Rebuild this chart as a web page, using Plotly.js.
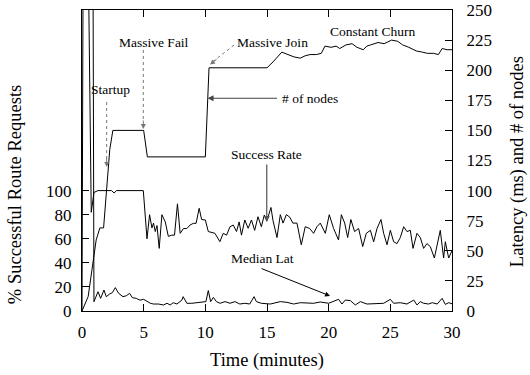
<!DOCTYPE html>
<html>
<head>
<meta charset="utf-8">
<script src="https://cdn.plot.ly/plotly-3.0.1.min.js"></script>
<style>html,body{margin:0;padding:0;background:#fff;}#chart{width:530px;height:375px;}</style>
</head>
<body>
<div id="chart"></div>
<script>
// ---- Data ----
// Number of nodes over time (minutes)
const nodesTime = [0, 0.5, 1.15, 1.45, 1.75, 2.25, 2.5, 5.0, 5.3, 10.0, 10.3, 15.0, 15.5, 16.2, 16.7, 17.2, 17.7, 18.1, 18.5, 19.0, 19.4, 19.7, 20.2, 20.6, 20.9, 21.4, 21.9, 22.3, 22.8, 23.1, 23.4, 24.0, 24.5, 25.1, 25.6, 26.0, 26.5, 27.1, 27.6, 28.0, 28.5, 28.9, 29.2, 29.6, 30.0];
const nodesCount = [0, 12, 59, 69, 69, 134, 150, 150, 128, 128, 202, 202, 207, 215, 213, 211, 210, 212, 213, 213, 214, 220, 219, 220, 218, 221, 222, 219, 217, 220, 221, 223, 222, 225, 224, 221, 219, 216, 215, 214, 214, 213, 218, 217, 217];

// Success rate (%) over time
const successTime = [0.5, 0.75, 0.97, 1.3, 2.4, 2.6, 2.8, 4.97, 5.27, 5.48, 5.67, 5.8, 5.94, 6.08, 6.26, 6.48, 6.75, 7.0, 7.28, 7.5, 7.74, 7.96, 8.23, 8.5, 8.76, 9.03, 9.25, 9.5, 9.7, 10.0, 10.24, 10.5, 10.78, 11.18, 11.45, 11.72, 12.0, 12.26, 12.53, 12.74, 12.93, 13.2, 13.47, 13.74, 14.0, 14.27, 14.54, 14.78, 15.0, 15.32, 15.49, 15.81, 16.08, 16.3, 16.57, 16.84, 17.1, 17.43, 17.78, 18.1, 18.46, 18.78, 19.05, 19.32, 19.73, 20.05, 20.4, 20.8, 21.03, 21.3, 21.54, 21.8, 22.1, 22.43, 22.76, 23.05, 23.38, 23.65, 23.92, 24.24, 24.46, 24.73, 25.0, 25.27, 25.54, 25.81, 26.08, 26.35, 26.62, 26.84, 27.16, 27.43, 27.7, 27.97, 28.24, 28.57, 28.78, 29.05, 29.32, 29.46, 29.73, 30.0];
const successRate = [300, 82, 98.5, 100, 100, 98, 100, 100, 60, 80, 69, 73, 66, 71, 52, 80, 74, 62, 63, 63, 89, 64.5, 68.5, 68.5, 71.4, 72.8, 72.8, 85.3, 76, 75.6, 66, 65, 64.5, 57.6, 64.5, 63, 70, 71.4, 66, 74, 63, 75.6, 68.7, 75.6, 67, 78.3, 70, 79.7, 75, 86, 75, 61, 80, 73, 80, 78, 73, 73, 55, 70, 68.5, 64.5, 70, 73, 64.5, 80, 68.5, 59, 80, 73, 61, 76, 66, 68.5, 53.5, 64.5, 67, 57.5, 68.5, 76, 64.5, 55, 67, 57.5, 56, 61, 70, 66, 67, 52, 64.5, 61, 52, 56, 53.5, 44, 55, 67, 44, 57.5, 44, 50];

// Median latency (ms) over time
const latencyTime = [0, 0.25, 0.75, 0.97, 1.3, 1.51, 1.78, 1.97, 2.24, 2.46, 2.7, 2.97, 3.32, 3.6, 3.86, 4.08, 4.4, 4.7, 5.0, 5.27, 5.54, 5.8, 6.2, 6.6, 6.9, 7.15, 7.4, 7.7, 8.1, 8.2, 8.5, 8.9, 9.4, 9.84, 10.05, 10.24, 10.43, 10.65, 10.9, 11.2, 11.6, 12.0, 12.4, 12.8, 13.2, 13.6, 13.95, 14.14, 14.54, 15.27, 16.08, 16.62, 17.16, 17.7, 18.24, 18.78, 19.32, 20.0, 20.8, 21.08, 21.35, 21.76, 22.16, 22.57, 23.1, 23.9, 24.46, 25.0, 25.27, 25.8, 26.35, 26.9, 27.16, 27.43, 27.7, 28.1, 28.4, 28.8, 29.2, 29.46, 29.73, 30.0];
const latencyMs = [0, 800, 800, 7.7, 16, 10.5, 17.4, 11.9, 14.1, 15.2, 19.4, 14.7, 11.9, 12.7, 14.7, 11.1, 10.5, 9, 9.7, 7.8, 6.4, 5.8, 5.8, 5.0, 6.4, 5.0, 6.9, 5.8, 9.1, 11.9, 6.4, 6.4, 6.9, 7.8, 7.8, 17, 7.8, 11.3, 7.8, 6.4, 7.8, 6.4, 7.8, 5.8, 6.4, 5.8, 11.9, 7.8, 6.4, 5.8, 7.8, 7.2, 5.8, 6.9, 6.4, 6.4, 7.5, 6.4, 9.7, 5.8, 9.1, 8.6, 5.0, 7.8, 5.8, 5.8, 6.4, 9.7, 6.4, 6.9, 5.8, 9.1, 5.0, 7.8, 6.4, 5.8, 6.9, 5.8, 10.5, 5.5, 6.9, 6.0];

const xTicks = [0, 5, 10, 15, 20, 25, 30];
const leftTicks = [0, 20, 40, 60, 80, 100];
const rightTicks = [0, 25, 50, 75, 100, 125, 150, 175, 200, 225, 250];

// ---- Chart ----
const FONT = 'Liberation Serif';
const lineStyle = {color: '#000', width: 1};

const traces = [
  {x: nodesTime, y: nodesCount, yaxis: 'y2', type: 'scatter', mode: 'lines', line: lineStyle, name: '# of nodes'},
  {x: successTime, y: successRate, yaxis: 'y', type: 'scatter', mode: 'lines', line: lineStyle, name: 'Success Rate'},
  {x: latencyTime, y: latencyMs, yaxis: 'y2', type: 'scatter', mode: 'lines', line: lineStyle, name: 'Median Lat'}
];

const txt = (t, x, y) => ({text: t, x: x, y: y, xref: 'x', yref: 'y', showarrow: false,
  xanchor: 'center', yanchor: 'middle', font: {family: FONT, size: 13.5, color: '#000'}});
const head = (x, y, ax, ay, col) => ({text: '', x: x, y: y, xref: 'x', yref: 'y', showarrow: true,
  ax: ax, ay: ay, arrowhead: 2, arrowsize: 1, arrowwidth: 1, arrowcolor: col});
const dotted = (x0, y0, x1, y1) => ({type: 'line', xref: 'x', yref: 'y', x0: x0, y0: y0, x1: x1, y1: y1,
  line: {color: '#777', width: 1, dash: 'dot'}});

const annotations = [
  txt('Startup', 2.35, 183.6),
  head(2.0, 119.6, 0, -10, '#777'),
  txt('Massive Fail', 5.84, 222.8),
  head(4.97, 151.2, 0, -10, '#777'),
  txt('Massive Join', 15.41, 222.8),
  head(10.38, 204.7, 8, -6.3, '#777'),
  txt('# of nodes', 18.45, 176.7),
  {text: '', x: 10.18, y: 176.7, xref: 'x', yref: 'y', showarrow: true, ax: 71, ay: 0,
    arrowhead: 2, arrowsize: 1, arrowwidth: 1.2, arrowcolor: '#444'},
  txt('Constant Churn', 23.56, 232),
  txt('Success Rate', 14.92, 129.6),
  {text: '', x: 14.98, y: 73.9, xref: 'x', yref: 'y', showarrow: true, ax: 0, ay: -59,
    arrowhead: 2, arrowsize: 1, arrowwidth: 1.2, arrowcolor: '#555'},
  txt('Median Lat', 14.6, 43.2),
  {text: '', x: 20.11, y: 12.5, xref: 'x', yref: 'y', showarrow: true, ax: -70, ay: -28,
    arrowhead: 2, arrowsize: 1, arrowwidth: 1, arrowcolor: '#000'},
  // axis titles
  {text: 'Time (minutes)', xref: 'paper', yref: 'paper', x: 0.5, y: -0.166, showarrow: false,
    xanchor: 'center', yanchor: 'middle', font: {family: FONT, size: 18.5, color: '#000'}},
  {text: '% Successful Route Requests', xref: 'paper', yref: 'paper', x: -0.181, y: 0.385, showarrow: false,
    xanchor: 'center', yanchor: 'middle', textangle: -90, font: {family: FONT, size: 18.5, color: '#000'}},
  {text: 'Latency (ms) and # of nodes', xref: 'paper', yref: 'paper', x: 1.176, y: 0.495, showarrow: false,
    xanchor: 'center', yanchor: 'middle', textangle: -90, font: {family: FONT, size: 18.5, color: '#000'}}
];

const shapes = [
  dotted(2.0, 173.6, 2.0, 125.4),
  dotted(4.97, 216.8, 4.97, 157),
  dotted(12.33, 220.9, 10.62, 207.2)
];

const axisCommon = {
  showgrid: false, zeroline: false, showline: true, linecolor: '#000', linewidth: 1,
  ticks: 'inside', ticklen: 7, tickcolor: '#000', tickwidth: 1,
  tickfont: {family: FONT, size: 17, color: '#000'}, fixedrange: true
};

const layout = {
  width: 530, height: 375,
  margin: {l: 82, r: 78, t: 10, b: 64, pad: 0},
  paper_bgcolor: '#fff', plot_bgcolor: '#fff',
  font: {family: FONT, color: '#000'},
  showlegend: false,
  xaxis: Object.assign({}, axisCommon, {range: [0, 30], tickmode: 'array', tickvals: xTicks,
    ticktext: xTicks.map(String), mirror: 'ticks', ticklabelstandoff: 6}),
  yaxis: Object.assign({}, axisCommon, {range: [0, 250], tickmode: 'array', tickvals: leftTicks,
    ticktext: leftTicks.map(String), ticklabelstandoff: 6}),
  yaxis2: Object.assign({}, axisCommon, {range: [0, 250], overlaying: 'y', side: 'right', tickmode: 'array',
    tickvals: rightTicks, ticktext: rightTicks.map(String), ticklabelstandoff: 10}),
  annotations: annotations,
  shapes: shapes
};

Plotly.newPlot('chart', traces, layout, {staticPlot: true, displayModeBar: false});
</script>
</body>
</html>
